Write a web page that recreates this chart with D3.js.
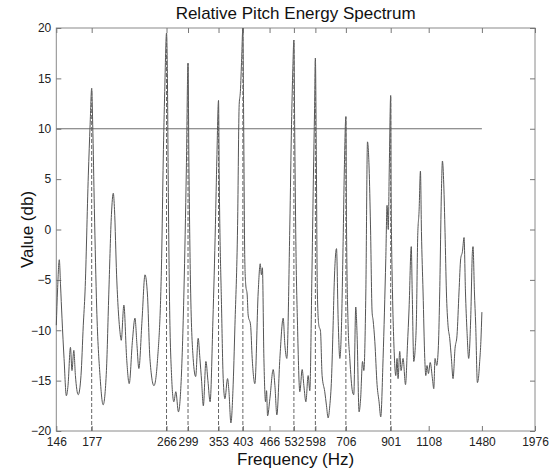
<!DOCTYPE html>
<html>
<head>
<meta charset="utf-8">
<script src="https://cdn.jsdelivr.net/npm/d3@7"></script>
<style>
  html, body { margin: 0; padding: 0; background: #fff; }
  svg { display: block; font-family: "Liberation Sans", Arial, sans-serif; }
</style>
</head>
<body>
<svg id="chart" width="552" height="476"></svg>
<script>
// ---- data ----
const freqs = [146,147,148.4,149.4,150.6,152.3,154.2,155.6,157.7,159,160.6,162,164.5,167,169.1,170.7,173.8,175.5,177,178,179.6,181.9,185.2,188.4,191.8,194.4,197.1,199.1,200.4,202.7,206.4,207.9,210.9,214.1,217.1,221,224,226.5,228.8,232.8,236.6,239.8,243,248.4,253.2,259,261.3,263.4,266,267.3,268.4,270.2,273.4,276.8,279.8,283.8,287.7,292.5,296.3,299,300.4,302.8,307.5,311.7,316,319,322,325,329.6,333.2,337.2,342.4,347.1,349.8,353,354.3,358.9,362.1,365.5,370.8,373.5,377.6,381.8,386,391.6,395,397.6,400.4,403,404.8,407.2,409.4,412.6,414.8,420.3,424,430.2,438.1,442.9,445.8,448.2,451.9,456,458.5,461,466.8,475.3,479.8,484.9,492.9,501.9,506.6,511.9,520.4,525.2,529,532,534.2,537.7,542.6,549.5,556.5,561.7,567.9,574.9,580.1,586.6,591.5,595.4,598,601.1,604.4,609.3,614.9,620.3,629.3,635.3,640.9,646.8,652.9,658.6,662.2,670.9,676.8,683.1,689.4,695.5,700.1,706,708.4,714.6,721.2,731.8,737,745,750.4,758.6,764.9,772.9,778.4,787,794.1,801.1,807.1,814.3,818.7,826.4,836.6,845.7,853.5,864.4,877.3,883.3,889.1,894,901,903,909.8,916.3,926.4,932.7,937.8,946.5,953.2,963.8,976.6,987,995.8,1007.7,1013.2,1021.6,1028.9,1036.5,1043.8,1051.4,1059.3,1065.1,1074.5,1084.6,1090.6,1098,1106.4,1117.2,1130.7,1139,1147,1157.4,1168.2,1176.5,1187.5,1194,1202.6,1211.1,1220.1,1230.8,1242.2,1253.8,1264.9,1278.8,1292.6,1306.7,1318.8,1331.3,1343,1353.4,1364.8,1377.4,1392.7,1405.6,1410.2,1421.1,1431,1444.2,1452.1,1462.4,1471.9,1480];
const energyDb = [-9.5,-6,-3,-5.5,-8.8,-12.8,-16.5,-15.5,-11.7,-14,-12,-14.5,-16.4,-14.5,-9.5,-6.2,5.4,10.4,14,10.4,2.1,-7.8,-14.5,-17.4,-14,-6,1.5,3.6,2,-4.5,-10.1,-11,-7.5,-12.8,-15.3,-11,-8.8,-11.5,-13.8,-9,-4.5,-6.5,-12.8,-15.5,-13,-2.9,7,13.7,19.5,15,5.4,-6.2,-14.5,-17.1,-16.1,-18.1,-15.5,-6,6,16.5,7,-4.5,-12.8,-14.6,-10.8,-12.8,-15.1,-17.5,-13.1,-15,-17.1,-9,0.5,7,12.8,5.4,-7.8,-14.8,-16.8,-14.8,-16,-19.2,-16,-9.5,0.4,12.4,13.7,17,20,10.4,-2.9,-5.5,-6.5,-8.5,-9.5,-12.8,-15.3,-6.2,-3.4,-4.5,-3.8,-12.8,-17.1,-16,-18.5,-16.8,-13.9,-15.5,-18.4,-12.8,-8.8,-11.5,-12.8,0.45,10.4,16,18.8,10.4,-1.2,-9.5,-16.1,-13.9,-15.5,-17.1,-14.5,-16,-5,5,12,17,7.1,-6.2,-9.5,-10.1,-14.5,-16.1,-17.5,-18.7,-17.5,-14.8,-9.5,-5.7,-1.9,-8.8,-12.8,-9.5,-1.2,6,11.2,0.45,-9.5,-12.8,-16.1,-16.4,-7.7,-10.5,-18.1,-16.8,-13.1,-14,-6.2,8.7,6.1,0.45,-8.2,-9,-11.1,-15.4,-17.1,-18.6,-12.8,-2.9,2.4,0,6,13.3,3.8,-6.2,-11.1,-14.5,-12.8,-14.8,-12.1,-14,-12.8,-15.4,-11.5,-7.8,-1.7,-6.5,-13.1,-12,-8.8,-0.6,1.8,5.8,-0.2,-6.2,-12.8,-14.5,-13.5,-14.3,-13.2,-14.8,-15.8,-12.8,-13.5,-11.5,-6.2,3.8,6.8,4.5,-0.3,-6.2,-9.5,-10.8,-12.8,-14.8,-11.8,-10.5,-6.2,-2.9,-2.2,-0.8,-6.2,-10.1,-12.8,-8.8,-2.2,-1.7,-6.2,-9.5,-15.2,-14.8,-13.1,-11.1,-8.2];

// marked pitch frequencies (dashed guides) and their peak values
const markedFreqs = [177, 266, 299, 353, 403, 532, 598, 706, 901];
const markedPeaks = [14, 19.5, 16.5, 12.8, 20, 18.8, 17, 11.2, 13.3];

// threshold line
const threshold = 10;
const thresholdRange = [146, 1480];

// tick labels
const xTicks = [146, 177, 266, 299, 353, 403, 466, 532, 598, 706, 901, 1108, 1480, 1976];
const yTicks = [-20, -15, -10, -5, 0, 5, 10, 15, 20];

const titleText = "Relative Pitch Energy Spectrum";
const xLabel = "Frequency (Hz)";
const yLabel = "Value (db)";

(function () {
  const svg = d3.select("#chart");
  const mL = 56.3, mR = 535, mT = 28, mB = 431;

  const x = d3.scaleLog().domain([146, 1976]).range([mL, mR]);
  const y = d3.scaleLinear().domain([-20, 20]).range([mB, mT]);

  const n = Math.min(freqs.length, energyDb.length);
  const data = freqs.slice(0, n).map((f, i) => ({ f, v: energyDb[i] }));

  // frame
  svg.append("rect")
    .attr("x", mL).attr("y", mT)
    .attr("width", mR - mL).attr("height", mB - mT)
    .attr("fill", "none").attr("stroke", "#8a8a8a").attr("stroke-width", 1);

  // axes with inward ticks
  const axB = d3.axisBottom(x).tickValues(xTicks).tickFormat(d3.format("d"))
    .tickSizeInner(-5).tickSizeOuter(0).tickPadding(6);
  const gB = svg.append("g").attr("transform", `translate(0,${mB})`).call(axB);

  const axT = d3.axisTop(x).tickValues(xTicks).tickFormat("")
    .tickSizeInner(-5).tickSizeOuter(0);
  const gT = svg.append("g").attr("transform", `translate(0,${mT})`).call(axT);

  const axL = d3.axisLeft(y).tickValues(yTicks).tickFormat(d3.format("d"))
    .tickSizeInner(-5).tickSizeOuter(0).tickPadding(5);
  const gL = svg.append("g").attr("transform", `translate(${mL},0)`).call(axL);

  const axR = d3.axisRight(y).tickValues(yTicks).tickFormat("")
    .tickSizeInner(-5).tickSizeOuter(0);
  const gR = svg.append("g").attr("transform", `translate(${mR},0)`).call(axR);

  [gB, gT, gL, gR].forEach(g => {
    g.select(".domain").remove();
    g.selectAll(".tick line").attr("stroke", "#777");
    g.selectAll(".tick text").attr("fill", "#222").style("font-size", "12px")
      .style("font-family", '"Liberation Sans", Arial, sans-serif');
  });

  // threshold line
  svg.append("line")
    .attr("x1", x(thresholdRange[0])).attr("x2", x(thresholdRange[1]))
    .attr("y1", y(threshold)).attr("y2", y(threshold))
    .attr("stroke", "#6e6e6e").attr("stroke-width", 1);

  // spectrum curve
  const line = d3.line().x(d => x(d.f)).y(d => y(d.v)).curve(d3.curveMonotoneX);
  svg.append("path").datum(data)
    .attr("d", line)
    .attr("fill", "none").attr("stroke", "#555").attr("stroke-width", 1);

  // dashed guides
  svg.append("g").selectAll("line")
    .data(markedFreqs.map((f, i) => ({ f, p: markedPeaks[i] })))
    .join("line")
    .attr("x1", d => x(d.f)).attr("x2", d => x(d.f))
    .attr("y1", y(-20)).attr("y2", d => y(d.p))
    .attr("stroke", "#666").attr("stroke-width", 1)
    .attr("stroke-dasharray", "4,2");

  // title and labels
  svg.append("text")
    .attr("x", (mL + mR) / 2).attr("y", 18.5)
    .attr("text-anchor", "middle").attr("fill", "#111")
    .style("font-size", "17px").text(titleText);

  svg.append("text")
    .attr("x", (mL + mR) / 2).attr("y", 465)
    .attr("text-anchor", "middle").attr("fill", "#111")
    .style("font-size", "17px").text(xLabel);

  svg.append("text")
    .attr("transform", `translate(33,${(mT + mB) / 2}) rotate(-90)`)
    .attr("text-anchor", "middle").attr("fill", "#111")
    .style("font-size", "17px").text(yLabel);
})();
</script>
</body>
</html>
